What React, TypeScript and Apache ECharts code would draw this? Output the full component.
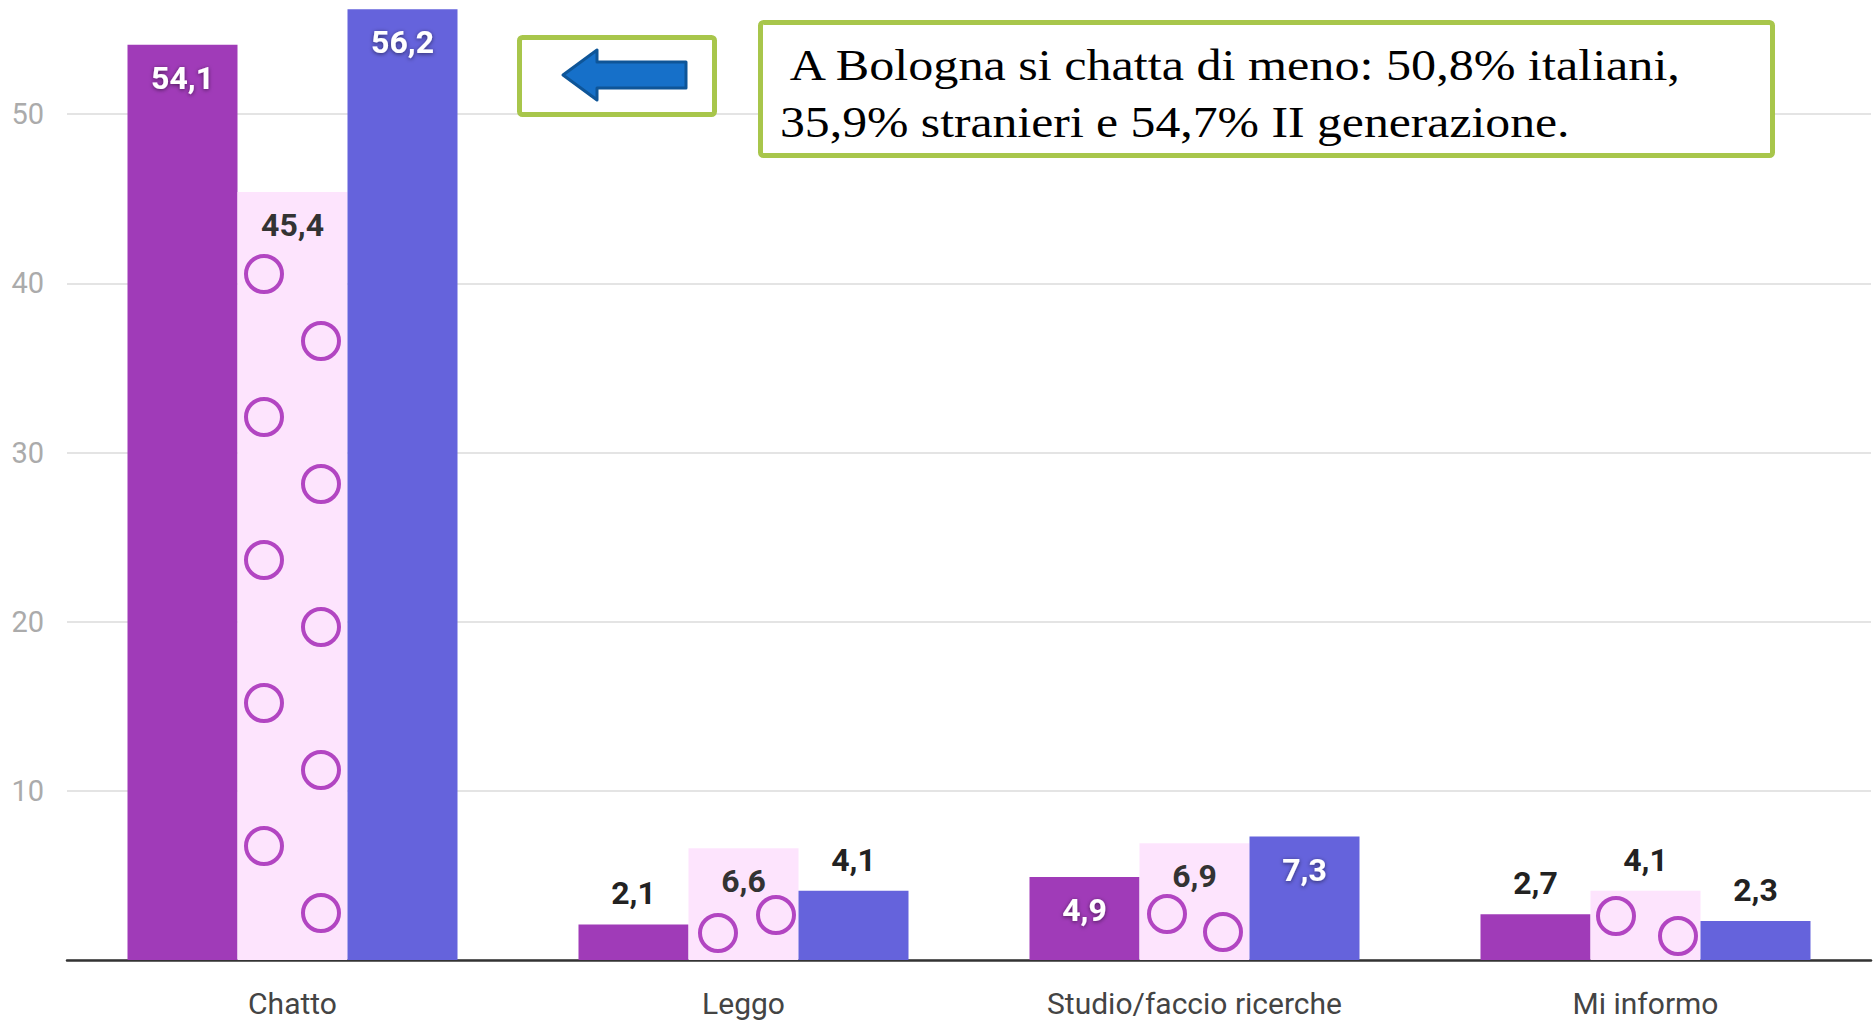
import React, { useEffect, useRef } from 'react';
import * as echarts from 'echarts';

// ---- data ----
const categories = ['Chatto', 'Leggo', 'Studio/faccio ricerche', 'Mi informo'];
const italiani = [54.1, 2.1, 4.9, 2.7];
const stranieri = [45.4, 6.6, 6.9, 4.1];
const secondaGen = [56.2, 4.1, 7.3, 2.3];
const yMin = 0;
const yMax = 60;
const yStep = 10;
const noteLines = [
  ' A Bologna si chatta di meno: 50,8% italiani,',
  '35,9% stranieri e 54,7% II generazione.',
];

// ---- styles ----
const PURPLE = '#a03bb8';
const PINK = '#fde4fd';
const BLUE = '#6563dc';
const RING = '#b245c2';
const GREEN = '#a8c64b';
// the chart canvas starts above the page so that the 60 gridline is cut off like in the source
const OFF = 55;
const W = 1874;
const H = 1024 + OFF;

const fmt = (v: number) => v.toFixed(1).replace('.', ',');

// decorative ring texture for the light-pink bars (positions in page px)
function ringPattern(rings: number[][]) {
  const circles = rings
    .map(
      ([cx, cy]) =>
        `<circle cx="${cx}" cy="${cy + OFF}" r="18" fill="none" stroke="${RING}" stroke-width="4"/>`
    )
    .join('');
  const svg = `<svg xmlns="http://www.w3.org/2000/svg" width="451" height="${H}"><rect width="451" height="${H}" fill="${PINK}"/>${circles}</svg>`;
  return {
    image: 'data:image/svg+xml;charset=utf-8,' + encodeURIComponent(svg),
    repeat: 'repeat',
    imageWidth: 451,
    imageHeight: H,
  } as any;
}

const chattoRings: number[][] = [];
for (let k = 0; k < 5; k++) {
  chattoRings.push([264, 274 + 143 * k]);
  chattoRings.push([321, 341 + 143 * k]);
}
const ringSets = [
  chattoRings,
  [[267, 933], [325, 915]],
  [[265, 914], [321, 932]],
  [[263, 916], [325, 936]],
];

function makeData(values: number[], kind: 'solid' | 'pink', color: string) {
  return values.map((v, i) => {
    const inside = v > 4.5;
    const label = inside
      ? {
          position: 'insideTop',
          distance: 17,
          color: kind === 'pink' ? '#333333' : '#ffffff',
          textShadowColor: kind === 'pink' ? 'transparent' : 'rgba(0,0,0,0.55)',
          textShadowBlur: kind === 'pink' ? 0 : 4,
          textShadowOffsetY: kind === 'pink' ? 0 : 1,
        }
      : { position: 'top', distance: 15, color: '#222222' };
    return {
      value: v,
      label,
      itemStyle: { color: kind === 'pink' ? ringPattern(ringSets[i]) : color },
    };
  });
}

export default function App() {
  const ref = useRef<HTMLDivElement>(null);
  useEffect(() => {
    if (!ref.current) return;
    const chart = echarts.init(ref.current, undefined, { renderer: 'svg' });
    const labelBase = {
      show: true,
      fontFamily: 'Roboto',
      fontWeight: 'bold' as const,
      fontSize: 32,
      formatter: (p: any) => fmt(p.value),
    };
    const noteFont = '45px "Liberation Serif"';
    chart.setOption({
      animation: false,
      backgroundColor: '#ffffff',
      grid: {
        left: 67,
        right: 3,
        top: 0,
        bottom: 64,
        containLabel: false,
        outerBoundsMode: 'none',
      },
      xAxis: {
        type: 'category',
        data: categories,
        axisLine: { lineStyle: { color: '#333333', width: 2.5 } },
        axisTick: { show: false },
        axisLabel: { fontFamily: 'Roboto', fontSize: 30, color: '#444444', margin: 28 },
        splitLine: { show: false },
      },
      yAxis: {
        type: 'value',
        min: yMin,
        max: yMax,
        interval: yStep,
        axisLine: { show: false },
        axisTick: { show: false },
        axisLabel: {
          fontFamily: 'Roboto',
          fontSize: 29,
          color: '#ababab',
          margin: 23,
          showMaxLabel: false,
          showMinLabel: false,
        },
        splitLine: { lineStyle: { color: '#e4e4e4', width: 2 } },
      },
      series: [
        {
          name: 'Italiani',
          type: 'bar',
          barWidth: 110,
          barGap: '0%',
          label: labelBase,
          emphasis: { disabled: true },
          data: makeData(italiani, 'solid', PURPLE),
        },
        {
          name: 'Stranieri',
          type: 'bar',
          barWidth: 110,
          barGap: '0%',
          label: labelBase,
          emphasis: { disabled: true },
          data: makeData(stranieri, 'pink', PINK),
        },
        {
          name: 'II generazione',
          type: 'bar',
          barWidth: 110,
          barGap: '0%',
          label: labelBase,
          emphasis: { disabled: true },
          data: makeData(secondaGen, 'solid', BLUE),
        },
      ],
      graphic: [
        {
          type: 'rect',
          z: 100,
          shape: { x: 519.5, y: 37.5 + OFF, width: 195, height: 77, r: 3 },
          style: { fill: '#ffffff', stroke: GREEN, lineWidth: 5 },
        },
        {
          type: 'polygon',
          z: 101,
          shape: {
            points: [
              [563, 75 + OFF],
              [597, 50 + OFF],
              [597, 62 + OFF],
              [686, 62 + OFF],
              [686, 88 + OFF],
              [597, 88 + OFF],
              [597, 100 + OFF],
            ],
          },
          style: { fill: '#1670c9', stroke: '#0e5598', lineWidth: 3, lineJoin: 'round' },
        },
        {
          type: 'rect',
          z: 100,
          shape: { x: 760.5, y: 22.5 + OFF, width: 1012, height: 133, r: 3 },
          style: { fill: '#ffffff', stroke: GREEN, lineWidth: 5 },
        },
        {
          type: 'text',
          z: 101,
          x: 780,
          y: 65 + OFF,
          scaleX: 1.115,
          style: {
            text: noteLines[0],
            font: noteFont,
            fill: '#000000',
            verticalAlign: 'middle',
            align: 'left',
          },
        },
        {
          type: 'text',
          z: 101,
          x: 780,
          y: 122 + OFF,
          scaleX: 1.105,
          style: {
            text: noteLines[1],
            font: noteFont,
            fill: '#000000',
            verticalAlign: 'middle',
            align: 'left',
          },
        },
      ],
    });
    return () => chart.dispose();
  }, []);
  return (
    <div
      ref={ref}
      style={{ position: 'fixed', left: 0, top: -OFF, width: W, height: H, background: '#fff' }}
    />
  );
}
